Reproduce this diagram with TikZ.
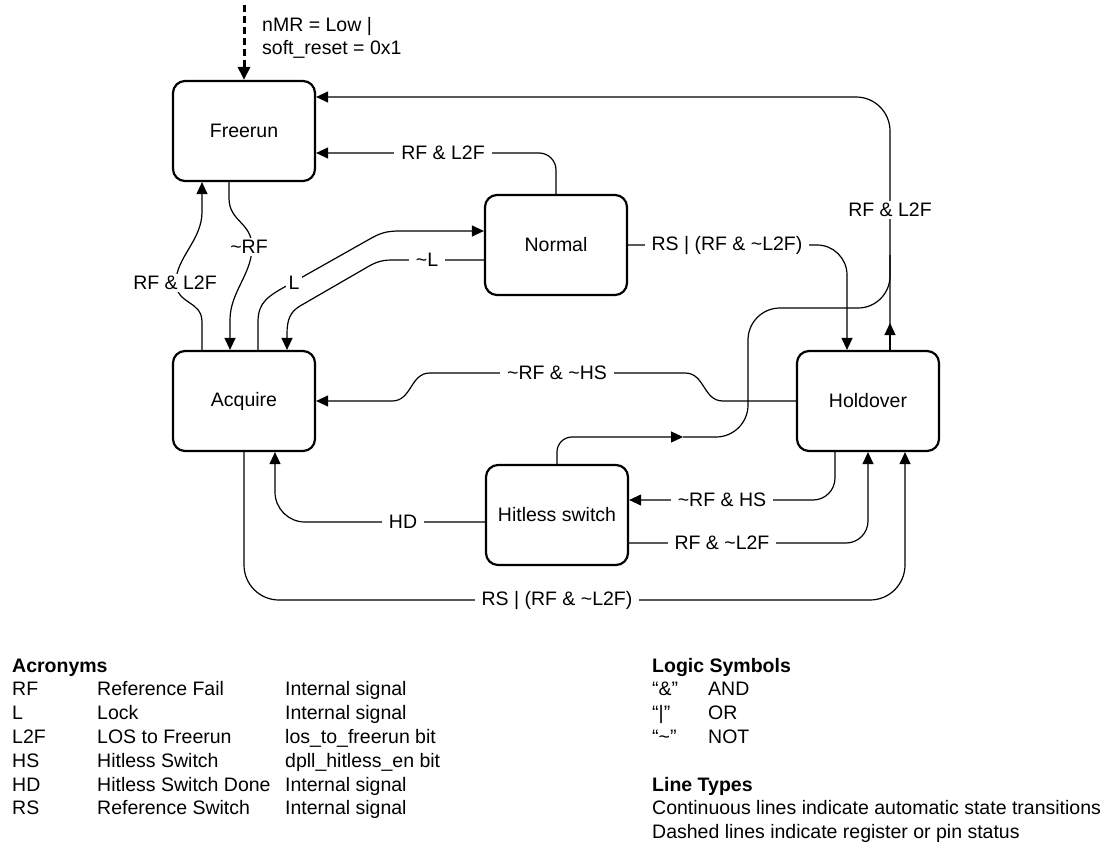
\documentclass[tikz,border=0pt]{standalone}
\usepackage{fontspec}
\setmainfont{Liberation Sans}
\usetikzlibrary{arrows.meta}

\begin{document}
\begin{tikzpicture}[x=1pt,y=-1pt,font=\fontsize{19.5}{23}\selectfont]
                \tikzset{
                    state/.style={draw, rounded corners=12pt, line width=2.2pt, minimum width=142pt, minimum height=100pt, align=center},
                    lbl/.style={fill=white, inner xsep=7pt, inner ysep=2pt},
                    arc/.style={line width=1.2pt},
                    arr/.style={line width=1.2pt, -{Triangle[length=12pt,width=11pt]}},
                    reg/.style={line width=3pt, dash pattern=on 7pt off 4pt, -{Triangle[length=13pt,width=12pt]}},
                    key/.style={anchor=base west, inner sep=0pt},
                    head/.style={key, font=\fontsize{19.5}{23}\selectfont\bfseries}
                }
                \useasboundingbox (0,0) rectangle (1118,843);

                \draw node[state] (freerun) at (244,131) {Freerun};
                \draw node[state] (normal) at (556,245) {Normal};
                \draw node[state] (acquire) at (244,401) {Acquire};
                \draw node[state] (holdover) at (868,401) {Holdover};
                \draw node[state] (hitless) at (557,515) {Hitless switch};

                \coordinate (rst) at (244,5);
                \coordinate (hup) at (890,323);
                \coordinate (hsarr) at (683,437);
                \coordinate (topy) at (0,97);
                \coordinate (nfy) at (0,153);
                \coordinate (rsb) at (557,600);

                \draw[reg] (rst) -- (freerun.north);
                \node[anchor=west, align=left, inner sep=0pt] (rstlbl) at (262,38) {nMR = Low |\\soft\_reset = 0x1};

                \draw[arr, rounded corners=34pt] (holdover.north -| hup) |- (freerun.east |- topy);
                \draw[arr] (holdover.north -| hup) -- (hup);
                \draw[arr, rounded corners=17pt] (normal.north) |- (freerun.east |- nfy);
                \draw[arr] ([xshift=-15pt]freerun.south) -- (229,198) .. controls (229,222) and (252,222) .. (252,247)
                    .. controls (252,274) and (230,292) .. (230,320) -- ([xshift=-14pt]acquire.north);
                \draw[arr] ([xshift=-42pt]acquire.north) -- (202,322) .. controls (202,300) and (176,305) .. (176,282)
                    .. controls (176,258) and (202,240) .. (202,212) -- ([xshift=-42pt]freerun.south);
                \draw[arr] ([xshift=14pt]acquire.north) -- (258,322) .. controls (258,302) and (268,296) .. (290,284)
                    -- (368,240) .. controls (380,233) and (386,231) .. (400,231) -- ([yshift=14pt]normal.west);
                \draw[arr] ([yshift=-15pt]normal.west) -- (392,260) .. controls (380,260) and (374,263) .. (364,269)
                    -- (300,306) .. controls (290,312) and (287,320) .. (287,334) -- ([xshift=43pt]acquire.north);
                \draw[arr, rounded corners=30pt] (normal.east) -| ([xshift=-21pt]holdover.north);
                \draw[arr] (holdover.west) -- (723,401) .. controls (703,401) and (705,373) .. (685,373)
                    -- (430,373) .. controls (410,373) and (412,401) .. (392,401) -- (acquire.east);
                \draw[arr, rounded corners=15pt] (hitless.north) |- (hsarr);
                \draw[arc, rounded corners=32pt] (hsarr) -| (748,308) -| (890,255);
                \draw[arr, rounded corners=22pt] ([xshift=-33pt]holdover.south) |- ([yshift=15pt]hitless.east);
                \draw[arr, rounded corners=22pt] ([yshift=-28pt]hitless.east) -| (holdover.south);
                \draw[arr, rounded corners=35pt] (acquire.south) |- (rsb) -| ([xshift=37pt]holdover.south);
                \draw[arr, rounded corners=30pt] ([yshift=-7pt]hitless.west) -| ([xshift=31pt]acquire.south);

                \node[lbl] (lNF) at (443,153) {RF \& L2F};
                \node[lbl] (lHF) at (890,210) {RF \& L2F};
                \node[lbl, inner xsep=3pt] (lFA) at (249,247) {\textasciitilde RF};
                \node[lbl, inner xsep=3pt] (lAF) at (175,283) {RF \& L2F};
                \node[lbl, inner xsep=3pt] (lAN) at (294,283) {L};
                \node[lbl] (lNA) at (427,260) {\textasciitilde L};
                \node[lbl] (lNH) at (727,245) {RS | (RF \& \textasciitilde L2F)};
                \node[lbl] (lHA) at (557,373) {\textasciitilde RF \& \textasciitilde HS};
                \node[lbl] (lHS) at (722,500) {\textasciitilde RF \& HS};
                \node[lbl] (lSH) at (722,543) {RF \& \textasciitilde L2F};
                \node[lbl] (lSA) at (403,522) {HD};
                \node[lbl] (lAH) at (557,600) {RS | (RF \& \textasciitilde L2F)};

                % legend
                \node[head] (acr) at (12,672) {Acronyms};
                \foreach \ab/\nm/\src [count=\i] in {%
                    RF/Reference Fail/Internal signal, L/Lock/Internal signal,
                    L2F/LOS to Freerun/los\_to\_freerun bit, HS/Hitless Switch/dpll\_hitless\_en bit,
                    HD/Hitless Switch Done/Internal signal, RS/Reference Switch/Internal signal%
                }{
                \node[key] (ab\i) at (12,{672+23.8*\i}) {\ab};
                \node[key] (nm\i) at (97,{672+23.8*\i}) {\nm};
                \node[key] (src\i) at (285,{672+23.8*\i}) {\src};
                }
                \node[head] (logic) at (652,672) {Logic Symbols};
                \foreach \sym/\op [count=\i] in {%
                    “\&”/AND, “|”/OR, “\textasciitilde”/NOT%
                }{
                \node[key] (sym\i) at (652,{672+23.8*\i}) {\sym};
                \node[key] (op\i) at (708,{672+23.8*\i}) {\op};
                }
                \node[head] (ltype) at (652,{672+23.8*5}) {Line Types};
                \node[key] (lcont) at (652,{672+23.8*6}) {Continuous lines indicate automatic state transitions};
                \node[key] (ldash) at (652,{672+23.8*7}) {Dashed lines indicate register or pin status};
            \end{tikzpicture}
\end{document}
